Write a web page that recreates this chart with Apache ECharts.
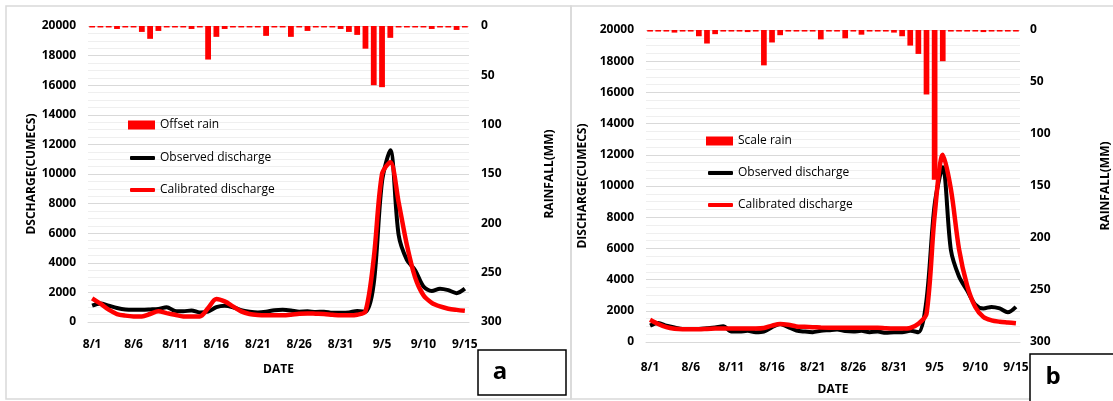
<!DOCTYPE html>
<html lang="en">
<head>
    <meta charset="UTF-8">
    <script type="text/javascript" src="https://cdn.jsdelivr.net/npm/echarts@6/dist/echarts.min.js"></script>
    <title>discharge</title>
    <style>
        html, body { margin: 0; padding: 0; background: #fff; }
        #chart { width: 1113px; height: 401px; }
    </style>
</head>
<body>
<div id="chart"></div>
<script type="text/javascript">
    // dates 8/1 .. 9/15
    var dates = ['8/1','8/2','8/3','8/4','8/5','8/6','8/7','8/8','8/9','8/10',
        '8/11','8/12','8/13','8/14','8/15','8/16','8/17','8/18','8/19','8/20',
        '8/21','8/22','8/23','8/24','8/25','8/26','8/27','8/28','8/29','8/30',
        '8/31','9/1','9/2','9/3','9/4','9/5','9/6','9/7','9/8','9/9',
        '9/10','9/11','9/12','9/13','9/14','9/15'];

    // panel a
    var offsetRain = [1.5,1.5,1.5,3,1.5,1.5,6,13,5,1.5,
        1.5,1.5,3,1.5,34,11,3,1.5,1.5,1.5,
        1.5,10,1.5,1.5,11,1.5,5,1.5,1.5,1.5,
        3,6,9,23,60,62,12,1.5,1.5,1.5,
        1.5,3,1.5,1.5,4,1.5];
    var observedA = [1100,1250,1100,950,850,830,830,850,880,1000,
        750,720,780,650,700,1000,1100,1000,800,700,
        650,700,800,820,780,700,720,680,700,620,
        620,640,750,700,2600,9500,11600,5900,4200,3500,
        2400,2100,2250,2150,1950,2250];
    var calibratedA = [1600,1240,830,540,430,380,380,540,720,600,
        490,380,380,380,940,1550,1390,1060,720,540,
        470,450,450,450,490,560,580,560,540,490,
        450,450,490,720,4300,10000,10800,8100,5200,3000,
        1800,1300,1050,900,820,760];

    // panel b
    var scaleRain = [1.5,1.5,1.5,2.5,1.5,1.5,6,13,4,1.5,
        1.5,1.5,2,1.5,34,12,5,1.5,1.5,1.5,
        1.5,9,1.5,1.5,8,1.5,4.5,1.5,1.5,1.5,
        2.5,6,15,23,62,144,30,1.5,1.5,1.5,
        1.5,2,1.5,1.5,1.5,1.5];
    var observedB = [1050,1220,1050,930,840,840,840,880,930,1010,
        670,670,720,630,670,950,1160,950,740,670,
        630,720,760,800,700,670,720,630,670,590,
        630,630,720,630,2700,8800,11200,5900,4200,3300,
        2400,2150,2250,2150,1900,2250];
    var calibratedB = [1420,1150,950,850,820,820,820,840,860,870,
        870,870,870,870,900,1050,1150,1100,1000,980,
        950,930,920,920,920,920,920,920,920,880,
        860,860,900,1170,1800,8100,12000,9800,5960,3620,
        2240,1600,1390,1300,1250,1200];

    var font = 'Open Sans';
    var labelStyle = {color: '#000', fontWeight: 'bold', fontSize: 12, fontFamily: font};
    var nameStyle = {color: '#000', fontWeight: 'bold', fontSize: 12, fontFamily: font};
    var plain = function (v) { return String(v); };

    function xAxis(idx, labelMargin, nameGap) {
        return {
            type: 'category', gridIndex: idx, data: dates, boundaryGap: true,
            name: 'DATE', nameLocation: 'middle', nameGap: nameGap, nameTextStyle: nameStyle,
            axisLine: {lineStyle: {color: '#d9d9d9', width: 1}},
            axisTick: {interval: 4, length: 5, lineStyle: {color: '#d9d9d9'}},
            axisLabel: Object.assign({interval: 4, margin: labelMargin}, labelStyle)
        };
    }
    function flowAxis(idx, name, gap) {
        return {
            type: 'value', gridIndex: idx, min: 0, max: 20000, interval: 2000,
            name: name, nameLocation: 'middle', nameGap: gap, nameRotate: 90, nameTextStyle: nameStyle,
            axisLine: {show: false}, axisTick: {show: false},
            axisLabel: Object.assign({margin: 12, formatter: plain}, labelStyle),
            splitLine: {lineStyle: {color: '#d9d9d9', width: 1}},
            minorTick: {show: false, splitNumber: 4},
            minorSplitLine: {show: true, lineStyle: {color: '#efefef', width: 1}}
        };
    }
    function rainAxis(idx, gap, margin) {
        return {
            type: 'value', gridIndex: idx, position: 'right', inverse: true,
            min: 0, max: 300, interval: 50,
            name: 'RAINFALL(MM)', nameLocation: 'middle', nameGap: gap, nameRotate: 90, nameTextStyle: nameStyle,
            axisLine: {show: false}, axisTick: {show: false}, splitLine: {show: false},
            axisLabel: Object.assign({margin: margin, formatter: plain}, labelStyle)
        };
    }
    var legendText = {color: '#000', fontSize: 12, fontFamily: font, lineHeight: 16};
    // rain item and line items sit in separate legends so the icons can differ in height
    function rainLegend(left, top, rainName) {
        return {
            orient: 'vertical', left: left, top: top, padding: 0,
            itemWidth: 27, itemHeight: 9, textStyle: legendText,
            data: [{name: rainName, icon: 'rect'}]
        };
    }
    function lineLegend(left, top) {
        return {
            orient: 'vertical', left: left, top: top, padding: 0,
            itemWidth: 25, itemHeight: 4, itemGap: 16, textStyle: legendText, itemStyle: {borderWidth: 0},
            data: [
                {name: 'Observed discharge', icon: 'roundRect'},
                {name: 'Calibrated discharge', icon: 'roundRect'}
            ]
        };
    }

    var chart = echarts.init(document.getElementById('chart'), null, {renderer: 'canvas'});
    chart.setOption({
        animation: false,
        backgroundColor: '#fff',
        textStyle: {fontFamily: font},
        grid: [
            {left: 88, top: 26, width: 381, height: 296},
            {left: 646, top: 30, width: 380, height: 313}
        ],
        xAxis: [xAxis(0, 17, 42), xAxis(1, 20, 42)],
        yAxis: [
            flowAxis(0, 'DSCHARGE(CUMECS)', 48),
            rainAxis(0, 75, 12),
            flowAxis(1, 'DISCHARGE(CUMECS)', 57),
            rainAxis(1, 80, 10)
        ],
        legend: [
            rainLegend(128, 117, 'Offset rain'), lineLegend(130, 150),
            rainLegend(706, 133, 'Scale rain'), lineLegend(708, 165)
        ],
        series: [
            {name: 'Offset rain', type: 'bar', xAxisIndex: 0, yAxisIndex: 1, data: offsetRain,
                barWidth: '70%', itemStyle: {color: '#ff0000'}},
            {name: 'Observed discharge', type: 'line', xAxisIndex: 0, yAxisIndex: 0, data: observedA,
                smooth: 0.3, symbol: 'none', lineStyle: {color: '#000', width: 4}, itemStyle: {color: '#000'}},
            {name: 'Calibrated discharge', type: 'line', xAxisIndex: 0, yAxisIndex: 0, data: calibratedA,
                smooth: 0.3, symbol: 'none', lineStyle: {color: '#ff0000', width: 4.5}, itemStyle: {color: '#ff0000'}},
            {name: 'Scale rain', type: 'bar', xAxisIndex: 1, yAxisIndex: 3, data: scaleRain,
                barWidth: '70%', itemStyle: {color: '#ff0000'}},
            {name: 'Observed discharge', type: 'line', xAxisIndex: 1, yAxisIndex: 2, data: observedB,
                smooth: 0.3, symbol: 'none', lineStyle: {color: '#000', width: 4}, itemStyle: {color: '#000'}},
            {name: 'Calibrated discharge', type: 'line', xAxisIndex: 1, yAxisIndex: 2, data: calibratedB,
                smooth: 0.3, symbol: 'none', lineStyle: {color: '#ff0000', width: 4.5}, itemStyle: {color: '#ff0000'}}
        ],
        graphic: [
            // panel frames
            {type: 'rect', shape: {x: 6, y: 6, width: 565, height: 393}, silent: true, z: -1,
                style: {fill: 'none', stroke: '#d9d9d9', lineWidth: 1.5}},
            {type: 'rect', shape: {x: 571, y: 6, width: 560, height: 393}, silent: true, z: -1,
                style: {fill: 'none', stroke: '#d9d9d9', lineWidth: 1.5}},
            // a / b tags
            {type: 'rect', shape: {x: 478, y: 350, width: 88, height: 45}, z: 10,
                style: {fill: '#fff', stroke: '#000', lineWidth: 1.5}},
            {type: 'text', x: 500, y: 372, z: 11,
                style: {text: 'a', font: 'bold 24px "Open Sans"', fill: '#000', align: 'center', verticalAlign: 'middle'}},
            {type: 'rect', shape: {x: 1030, y: 354, width: 90, height: 50}, z: 10,
                style: {fill: '#fff', stroke: '#000', lineWidth: 1.5}},
            {type: 'text', x: 1053, y: 377, z: 11,
                style: {text: 'b', font: 'bold 24px "Open Sans"', fill: '#000', align: 'center', verticalAlign: 'middle'}}
        ]
    });
</script>
</body>
</html>
